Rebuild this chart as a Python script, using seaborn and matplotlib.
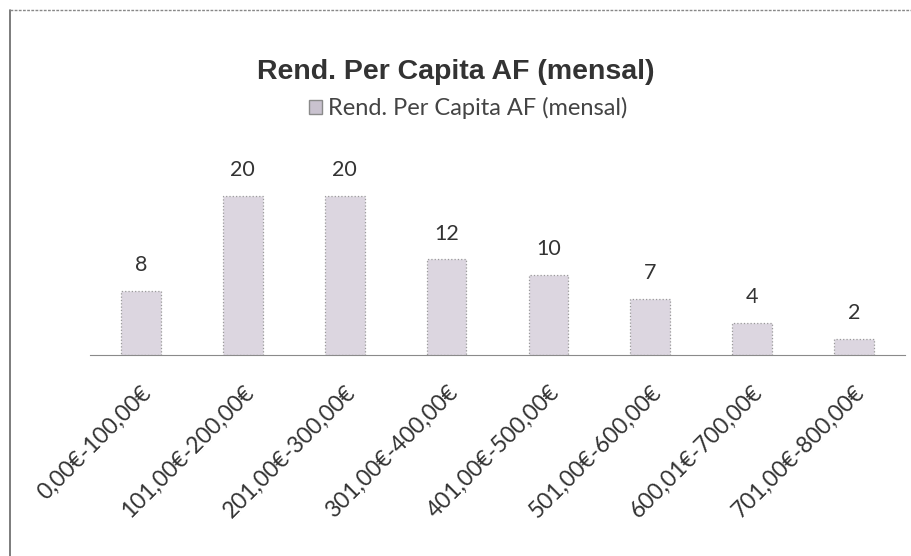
import matplotlib.pyplot as plt
import matplotlib.patches as mpatches
import matplotlib.transforms as mtransforms
import pandas as pd
import seaborn as sns

categorias = ["0,00€-100,00€", "101,00€-200,00€", "201,00€-300,00€", "301,00€-400,00€",
              "401,00€-500,00€", "501,00€-600,00€", "600,01€-700,00€", "701,00€-800,00€"]
valores = [8, 20, 20, 12, 10, 7, 4, 2]
serie = "Rend. Per Capita AF (mensal)"

df = pd.DataFrame({"faixa": categorias, "n": valores})

sns.set_style("white")
plt.rcParams["font.family"] = ["Lato", "DejaVu Sans"]

fig = plt.figure(figsize=(9.12, 5.56), dpi=100)
ax = fig.add_axes([90 / 912, 1 - 355 / 556, 815 / 912, 199 / 556])

cor_barra = "#dcd6e0"
sns.barplot(data=df, x="faixa", y="n", color=cor_barra, width=0.39, ax=ax,
            edgecolor="#9a9a9a", linewidth=0.9, linestyle=":", saturation=1)

ax.set_ylim(0, 25)
ax.set_xlim(-0.5, len(categorias) - 0.5)
for i, v in enumerate(valores):
    ax.text(i, v + 2.0, str(v), ha="center", va="bottom", fontsize=15.5, color="#333333")

ax.set_xlabel("")
ax.set_ylabel("")
ax.set_yticks([])
for lado in ["left", "right", "top"]:
    ax.spines[lado].set_visible(False)
ax.spines["bottom"].set_color("#8a8a8a")
ax.spines["bottom"].set_linestyle((0, (3, 1)))
ax.tick_params(axis="x", length=0, pad=0)

desloc = mtransforms.ScaledTranslation(0.0, -0.27, fig.dpi_scale_trans)
for rot in ax.get_xticklabels():
    rot.set_rotation(45)
    rot.set_ha("right")
    rot.set_rotation_mode("anchor")
    rot.set_fontsize(16.5)
    rot.set_color("#333333")
    rot.set_transform(rot.get_transform() + desloc)

fig.text(0.5, 1 - 72 / 556, serie, ha="center", va="center", fontsize=20.5,
         fontweight="bold", family=["Liberation Sans", "DejaVu Sans"], color="#333333")

marcador = mpatches.Patch(facecolor="#c9c2cf", edgecolor="#8a8a8a", label=serie)
fig.legend(handles=[marcador], loc="center", bbox_to_anchor=(0.513, 1 - 108 / 556),
           frameon=False, fontsize=17, handlelength=0.55, handleheight=0.55,
           handletextpad=0.25, labelcolor="#444444")

# moldura do gráfico
fig.add_artist(plt.Line2D([10 / 912, 10 / 912], [0, 1 - 10 / 556], color="#666666",
                          linewidth=1.2, transform=fig.transFigure))
fig.add_artist(plt.Line2D([10 / 912, 1], [1 - 10 / 556, 1 - 10 / 556], color="#888888",
                          linewidth=1, linestyle=(0, (2, 1)), transform=fig.transFigure))

plt.savefig("out.png", dpi=100)
plt.close()
